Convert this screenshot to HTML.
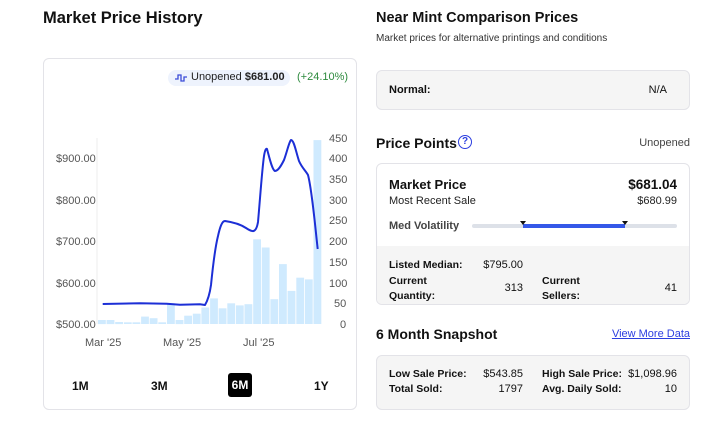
<!DOCTYPE html>
<html><head><meta charset="utf-8"><style>
*{margin:0;padding:0;box-sizing:border-box}
body{width:720px;height:423px;background:#fff;font-family:"Liberation Sans",sans-serif;color:#111;position:relative;overflow:hidden}
.a{position:absolute;white-space:nowrap}
.h{font-weight:bold;font-size:14px}
.box{position:absolute;border:1px solid #e3e3e8;border-radius:6px}
.b{font-weight:bold}
.s{font-size:11px}
</style></head><body>
<div class="a b" style="left:43px;top:9px;font-size:16.5px">Market Price History</div>
<div class="box" style="left:43px;top:58px;width:314px;height:352px"></div>
<div class="a" style="left:168px;top:70px;width:122px;height:16px;background:#eef3fd;border-radius:8px"></div>
<svg class="a" style="left:174px;top:72px" width="14" height="12"><path d="M1 7h3V3h3v6h3V5h3" fill="none" stroke="#3a4bd8" stroke-width="1.3"/></svg>
<div class="a s" style="left:191px;top:71px;color:#222">Unopened <b>$681.00</b></div>
<div class="a s" style="left:297px;top:71px;color:#2e8b3e">(+24.10%)</div>
<svg class="a" style="left:0;top:0" width="360" height="410">
<line x1="97" y1="138" x2="97" y2="324" stroke="#eee"/>
<g fill="#cfeafe">
<rect x="98" y="320" width="7.8" height="4.1"/><rect x="106.6" y="320" width="7.8" height="4.1"/><rect x="115.2" y="322" width="7.8" height="2.1"/><rect x="123.9" y="322.3" width="7.8" height="1.7"/><rect x="132.5" y="322.3" width="7.8" height="1.7"/><rect x="141.1" y="316.6" width="7.8" height="7.4"/><rect x="149.7" y="318.2" width="7.8" height="5.8"/><rect x="158.3" y="322.3" width="7.8" height="1.7"/><rect x="167" y="303.3" width="7.8" height="20.7"/><rect x="175.6" y="320" width="7.8" height="4.1"/><rect x="184.2" y="315.7" width="7.8" height="8.3"/><rect x="192.8" y="313.7" width="7.8" height="10.3"/><rect x="201.4" y="307.5" width="7.8" height="16.5"/><rect x="210.1" y="298.4" width="7.8" height="25.6"/><rect x="218.7" y="308.3" width="7.8" height="15.7"/><rect x="227.3" y="303.3" width="7.8" height="20.7"/><rect x="235.9" y="305.4" width="7.8" height="18.6"/><rect x="244.5" y="304.2" width="7.8" height="19.8"/><rect x="253.2" y="239.3" width="7.8" height="84.7"/><rect x="261.8" y="247.5" width="7.8" height="76.5"/><rect x="270.4" y="299.2" width="7.8" height="24.8"/><rect x="279" y="264.1" width="7.8" height="59.9"/><rect x="287.6" y="290.9" width="7.8" height="33.1"/><rect x="296.3" y="277.7" width="7.8" height="46.3"/><rect x="304.9" y="279.4" width="7.8" height="44.6"/><rect x="313.5" y="140.1" width="7.8" height="183.9"/>
</g>
<path d="M102.7 304 L140 303.3 L166.7 303.7 L180 304.7 L200 304.3 L205 305 C208 300 210 292 211 285 C213 265 215 248 218 236 C220 227 222 221 225 221 C232 222 240 224 246 228 C252 232 256 234 258 222 C260 200 262 170 264 156 C265 150 266 148 267 149 C269 156 272 170 275 171 C278 171 281 166 284 160 C287 152 289 142 291 140 C294 140 296 152 299 161 C302 168 306 171 308 175 C312 190 315 225 317.7 249" fill="none" stroke="#1c2fd6" stroke-width="2" stroke-linejoin="round"/>
<g font-size="11" fill="#555" font-family="Liberation Sans, sans-serif">
<text x="56" y="162">$900.00</text><text x="56" y="204">$800.00</text><text x="56" y="245">$700.00</text><text x="56" y="287">$600.00</text><text x="56" y="328">$500.00</text>
<text x="329" y="142">450</text><text x="329" y="162">400</text><text x="329" y="183">350</text><text x="329" y="204">300</text><text x="329" y="224">250</text><text x="329" y="245">200</text><text x="329" y="266">150</text><text x="329" y="287">100</text><text x="334" y="307">50</text><text x="340" y="328">0</text>
<text x="85" y="346">Mar '25</text><text x="163" y="346">May '25</text><text x="243" y="346">Jul '25</text>
</g>
</svg>
<div class="a b" style="left:72px;top:379px;font-size:12px">1M</div>
<div class="a b" style="left:151px;top:379px;font-size:12px">3M</div>
<div class="a b" style="left:228px;top:373px;width:24px;height:24px;background:#000;color:#fff;border-radius:3px;font-size:12px;text-align:center;line-height:24px">6M</div>
<div class="a b" style="left:314px;top:379px;font-size:12px">1Y</div>

<div class="a h" style="left:376px;top:10px;font-size:14.5px">Near Mint Comparison Prices</div>
<div class="a s" style="left:376px;top:33px;font-size:10px;color:#333">Market prices for alternative printings and conditions</div>
<div class="box" style="left:376px;top:70px;width:314px;height:40px;background:#f5f5f5"></div>
<div class="a b s" style="left:389px;top:84px">Normal:</div>
<div class="a s" style="right:53px;top:84px">N/A</div>
<div class="a h" style="left:376px;top:135px">Price Points</div>
<div class="a" style="left:458px;top:135px;width:14px;height:14px;border:1.5px solid #2c3ee0;border-radius:50%;color:#2c3ee0;font-size:10px;font-weight:bold;text-align:center;line-height:11px">?</div>
<div class="a s" style="right:30px;top:137px;color:#444">Unopened</div>
<div class="box" style="left:376px;top:163px;width:314px;height:142px;overflow:hidden"><div style="position:absolute;left:0;top:82px;width:100%;height:60px;background:#f5f5f5"></div></div>
<div class="a b" style="left:389px;top:177px;font-size:13px">Market Price</div>
<div class="a b" style="right:43px;top:177px;font-size:13.5px">$681.04</div>
<div class="a s" style="left:389px;top:195px;color:#222">Most Recent Sale</div>
<div class="a s" style="right:43px;top:195px;color:#222">$680.99</div>
<div class="a b s" style="left:389px;top:220px;color:#444">Med Volatility</div>
<div class="a" style="left:472px;top:224px;width:205px;height:4px;background:#dde1e8;border-radius:2px"></div>
<div class="a" style="left:523px;top:224px;width:102px;height:4px;background:#3558e8"></div>
<div class="a" style="left:520px;top:221px;border-left:3px solid transparent;border-right:3px solid transparent;border-top:4px solid #111"></div>
<div class="a" style="left:622px;top:221px;border-left:3px solid transparent;border-right:3px solid transparent;border-top:4px solid #111"></div>
<div class="a b s" style="left:389px;top:259px;font-size:10.5px">Listed Median:</div>
<div class="a s" style="right:197px;top:259px">$795.00</div>
<div class="a b s" style="left:389px;top:274px;font-size:10.5px;line-height:15px">Current<br>Quantity:</div>
<div class="a s" style="right:197px;top:282px">313</div>
<div class="a b s" style="left:542px;top:274px;font-size:10.5px;line-height:15px">Current<br>Sellers:</div>
<div class="a s" style="right:43px;top:282px">41</div>
<div class="a h" style="left:376px;top:326px">6 Month Snapshot</div>
<div class="a s" style="right:30px;top:328px;color:#2c3ee0;text-decoration:underline">View More Data</div>
<div class="box" style="left:376px;top:355px;width:314px;height:55px;background:#f5f5f5"></div>
<div class="a b s" style="left:389px;top:368px;font-size:10.5px">Low Sale Price:</div>
<div class="a s" style="right:197px;top:368px">$543.85</div>
<div class="a b s" style="left:389px;top:383px;font-size:10.5px">Total Sold:</div>
<div class="a s" style="right:197px;top:383px">1797</div>
<div class="a b s" style="left:542px;top:368px;font-size:10.5px">High Sale Price:</div>
<div class="a s" style="right:43px;top:368px">$1,098.96</div>
<div class="a b s" style="left:542px;top:383px;font-size:10.5px">Avg. Daily Sold:</div>
<div class="a s" style="right:43px;top:383px">10</div>
</body></html>
